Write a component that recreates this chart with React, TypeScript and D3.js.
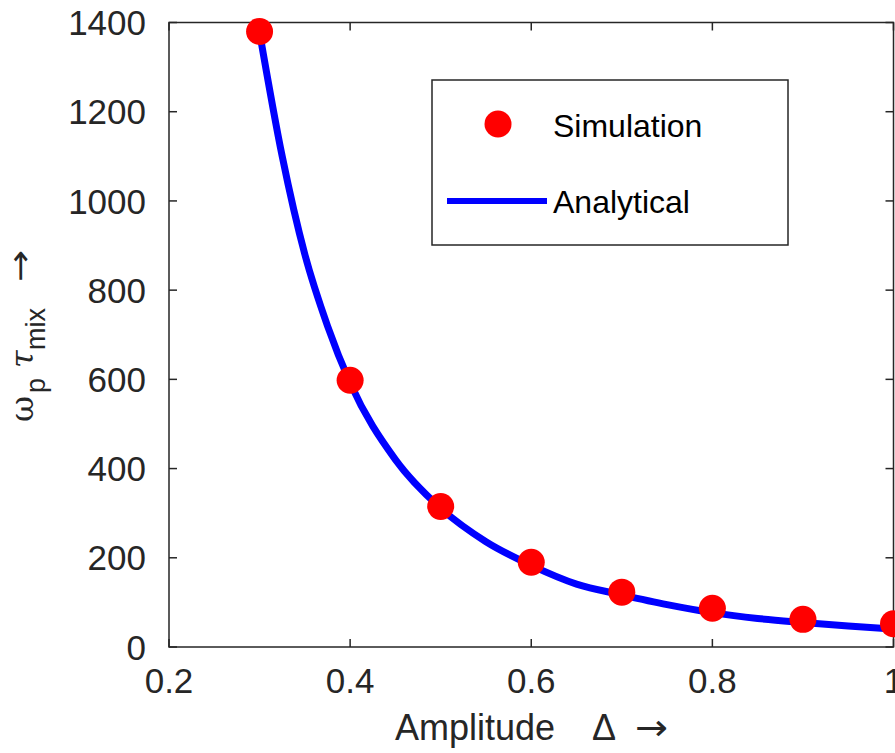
import React from "react";
import * as d3 from "d3";

const simX = [0.3, 0.4, 0.5, 0.6, 0.7, 0.8, 0.9, 1.0];
const simY = [1380, 598, 315, 190, 123, 87, 62, 52];

const anaX = [0.3, 0.325, 0.35, 0.375, 0.4, 0.45, 0.5, 0.55, 0.6, 0.65, 0.7, 0.75, 0.8, 0.85, 0.9, 0.95, 1.0];
const anaY = [1378, 1100, 880, 720, 592, 420, 311, 236, 183, 141, 117, 95, 77, 64, 55, 47, 40];

const xTicks = [0.2, 0.4, 0.6, 0.8, 1];
const xTickLabels = ["0.2", "0.4", "0.6", "0.8", "1"];
const yTicks = [0, 200, 400, 600, 800, 1000, 1200, 1400];
const yTickLabels = ["0", "200", "400", "600", "800", "1000", "1200", "1400"];

const legendLabels = ["Simulation", "Analytical"];

const W = 895;
const H = 753;
const L = 169;
const R = 893.5;
const T = 22.5;
const B = 647;
const AX = "#262626";
const FONT = "'Liberation Sans', Arial, Helvetica, sans-serif";

export default function App() {
  const x = d3.scaleLinear().domain([0.2, 1]).range([L, R]);
  const y = d3.scaleLinear().domain([0, 1400]).range([B, T]);
  const line = d3
    .line<number>()
    .x((_, i) => x(anaX[i]))
    .y((d) => y(d))
    .curve(d3.curveMonotoneX);
  const tl = 8;
  return (
    <svg
      width={W}
      height={H}
      style={{ position: "absolute", left: 0, top: 0, background: "#fff" }}
      fontFamily={FONT}
    >
      <rect x={0} y={0} width={W} height={H} fill="#fff" />
      {/* axes box */}
      <rect x={L} y={T} width={R - L} height={B - T} fill="none" stroke={AX} strokeWidth={1.5} />
      {xTicks.map((t, i) => (
        <g key={"xt" + i}>
          <line x1={x(t)} x2={x(t)} y1={B} y2={B - tl} stroke={AX} strokeWidth={1.5} />
          <line x1={x(t)} x2={x(t)} y1={T} y2={T + tl} stroke={AX} strokeWidth={1.5} />
          <text x={x(t)} y={693} textAnchor="middle" fontSize={35} fill={AX}>
            {xTickLabels[i]}
          </text>
        </g>
      ))}
      {yTicks.map((t, i) => (
        <g key={"yt" + i}>
          <line x1={L} x2={L + tl} y1={y(t)} y2={y(t)} stroke={AX} strokeWidth={1.5} />
          <line x1={R} x2={R - tl} y1={y(t)} y2={y(t)} stroke={AX} strokeWidth={1.5} />
          <text x={146} y={y(t)} dy="0.36em" textAnchor="end" fontSize={35} fill={AX}>
            {yTickLabels[i]}
          </text>
        </g>
      ))}
      {/* analytical curve */}
      <path d={line(anaY) || ""} fill="none" stroke="#0000ff" strokeWidth={7} />
      {/* simulation points */}
      {simX.map((v, i) => (
        <circle key={"p" + i} cx={x(v)} cy={y(simY[i])} r={13.5} fill="#ff0000" />
      ))}
      {/* legend */}
      <rect x={432} y={80} width={356} height={165} fill="#fff" stroke={AX} strokeWidth={1.5} />
      <circle cx={498} cy={124} r={13.5} fill="#ff0000" />
      <text x={553} y={137} fontSize={32} fill="#000">
        {legendLabels[0]}
      </text>
      <line x1={447} x2={547} y1={201} y2={201} stroke="#0000ff" strokeWidth={6} />
      <text x={553} y={213} fontSize={32} fill="#000">
        {legendLabels[1]}
      </text>
      {/* x label */}
      <text y={740} fontSize={36} fill={AX}>
        <tspan x={395}>Amplitude</tspan>
        <tspan x={592}>Δ</tspan>
        <tspan x={635} fontFamily="'DejaVu Sans', sans-serif" textLength={33} lengthAdjust="spacingAndGlyphs">
          →
        </tspan>
      </text>
      {/* y label */}
      <text transform="translate(33,422) rotate(-90)" fontSize={32} fill={AX}>
        <tspan x={0} y={0} fontFamily="'DejaVu Serif', serif">ω</tspan>
        <tspan x={29} y={12} fontSize={27}>p</tspan>
        <tspan x={54} y={0} fontFamily="'DejaVu Serif', serif" fontStyle="italic">τ</tspan>
        <tspan x={72} y={12} fontSize={27}>mix</tspan>
        <tspan x={140} y={-2} fontFamily="'DejaVu Sans', sans-serif" textLength={32} lengthAdjust="spacingAndGlyphs">
          →
        </tspan>
      </text>
    </svg>
  );
}
